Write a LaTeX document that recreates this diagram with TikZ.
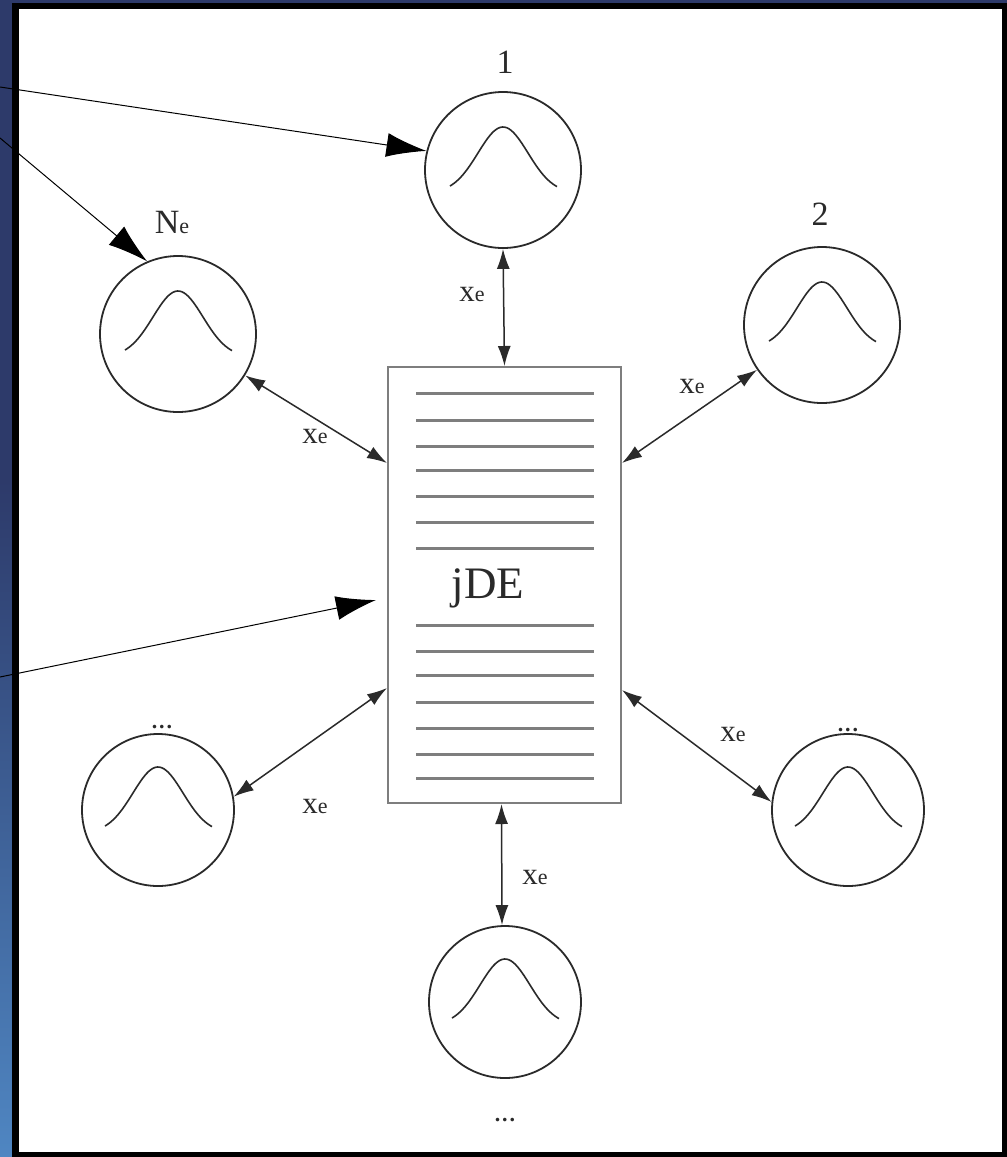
\documentclass[tikz,border=0pt]{standalone}
\usepackage{fontspec}
\setmainfont{Liberation Serif}
\usetikzlibrary{arrows.meta,calc}
\definecolor{navy}{HTML}{2D3A6A}
\definecolor{skyb}{HTML}{4F86C2}
\definecolor{ink}{HTML}{2A2A2A}
\definecolor{boxgray}{HTML}{7E7E7E}
\tikzset{
  circ/.style={circle,draw=ink,line width=1.8pt,minimum size=156pt,inner sep=0pt},
  bigarrow/.style={black,line width=1pt,-{Latex[length=40pt,width=24pt]}},
  dblarrow/.style={ink,line width=1.5pt,{Latex[length=20pt,width=13pt]}-{Latex[length=20pt,width=13pt]}},
  gcurve/.style={ink,line width=1.6pt},
  xlab/.style={text=ink,font=\fontsize{31}{31}\selectfont,inner sep=0pt},
  numlab/.style={text=ink,font=\fontsize{34}{34}\selectfont,inner sep=0pt},
  dotlab/.style={text=ink,font=\fontsize{22}{22}\selectfont\bfseries,inner sep=0pt},
  docline/.style={boxgray,line width=3pt},
}
\newcommand{\xe}{x{\fontsize{22}{22}\selectfont e}}
\newcommand{\gaussin}[1]{\draw[gcurve,shift={(#1.center)}] plot[domain=-53:54,samples=50,smooth] ({\x},{23-66*exp(-(\x*\x)/1250)});}
\begin{document}
\begin{tikzpicture}[x=1pt,y=-1pt]
\useasboundingbox (0,0) rectangle (1007,1157);
% background
\fill[navy] (0,0) rectangle (1007,1157);
\shade[top color=navy,bottom color=skyb] (0,480) rectangle (13,1157);
\fill[black] (12,3) rectangle (1007,1157);
\fill[white] (19,9) rectangle (1002,1152);
% document box
\node[draw=boxgray,line width=2pt,fill=white,minimum width=233pt,minimum height=436pt,inner sep=0pt] (jde) at (504.5,585) {};
\foreach \yy in {393,420,446,470,496,522,548,625,651,675,702,728,754,778}
  \draw[docline] (416,\yy) -- (594,\yy);
\node[text=ink,font=\fontsize{45}{45}\selectfont,anchor=base,inner sep=0pt] (jdet) at (488,598) {jDE};
% circles
\node[circ] (c1) at (503,170) {};
\node[circ] (cN) at (178,334) {};
\node[circ] (c2) at (822,325) {};
\node[circ,minimum size=152pt] (cBL) at (158,810) {};
\node[circ,minimum size=152pt] (cBR) at (848,810) {};
\node[circ,minimum size=152pt] (cB) at (505,1002) {};
\gaussin{c1}
\gaussin{cN}
\gaussin{c2}
\gaussin{cBL}
\gaussin{cBR}
\gaussin{cB}
% labels
\node[numlab] (l1) at (505,62) {1};
\node[numlab] (l2) at (820,214) {2};
\node[numlab] (lN) at (172,222) {N{\fontsize{22}{22}\selectfont e}};
\node[dotlab] (lBL) at (162,727) {.\kern2pt.\kern2pt.};
\node[dotlab] (lBR) at (848,730) {.\kern2pt.\kern2pt.};
\node[dotlab] (lB) at (505,1120) {.\kern2pt.\kern2pt.};
% double arrows
\draw[dblarrow] (c1.south) -- (jde.north);
\draw[dblarrow] (cN) -- ([yshift=122pt]jde.west);
\draw[dblarrow] (c2) -- ([yshift=122pt]jde.east);
\draw[dblarrow] (cBL.10) -- ([yshift=-103pt]jde.west);
\draw[dblarrow] (cBR.174) -- ([yshift=-105pt]jde.east);
\draw[dblarrow] ([xshift=-3pt]jde.south) -- ([xshift=-3pt]cB.north);
\node[xlab] (x1) at (472,294) {\xe};
\node[xlab] (x2) at (315,436) {\xe};
\node[xlab] (x3) at (692,386) {\xe};
\node[xlab] (x4) at (733,734) {\xe};
\node[xlab] (x5) at (315,806) {\xe};
\node[xlab] (x6) at (535,877) {\xe};
% arrows from the left
\coordinate (s1) at (0,87);
\coordinate (s2) at (0,138);
\coordinate (s3) at (0,677);
\coordinate (t3) at (376,600);
\draw[bigarrow] (s1) -- (c1.166);
\draw[bigarrow] (s2) -- (cN.113);
\draw[bigarrow] (s3) -- (t3);
\end{tikzpicture}
\end{document}
